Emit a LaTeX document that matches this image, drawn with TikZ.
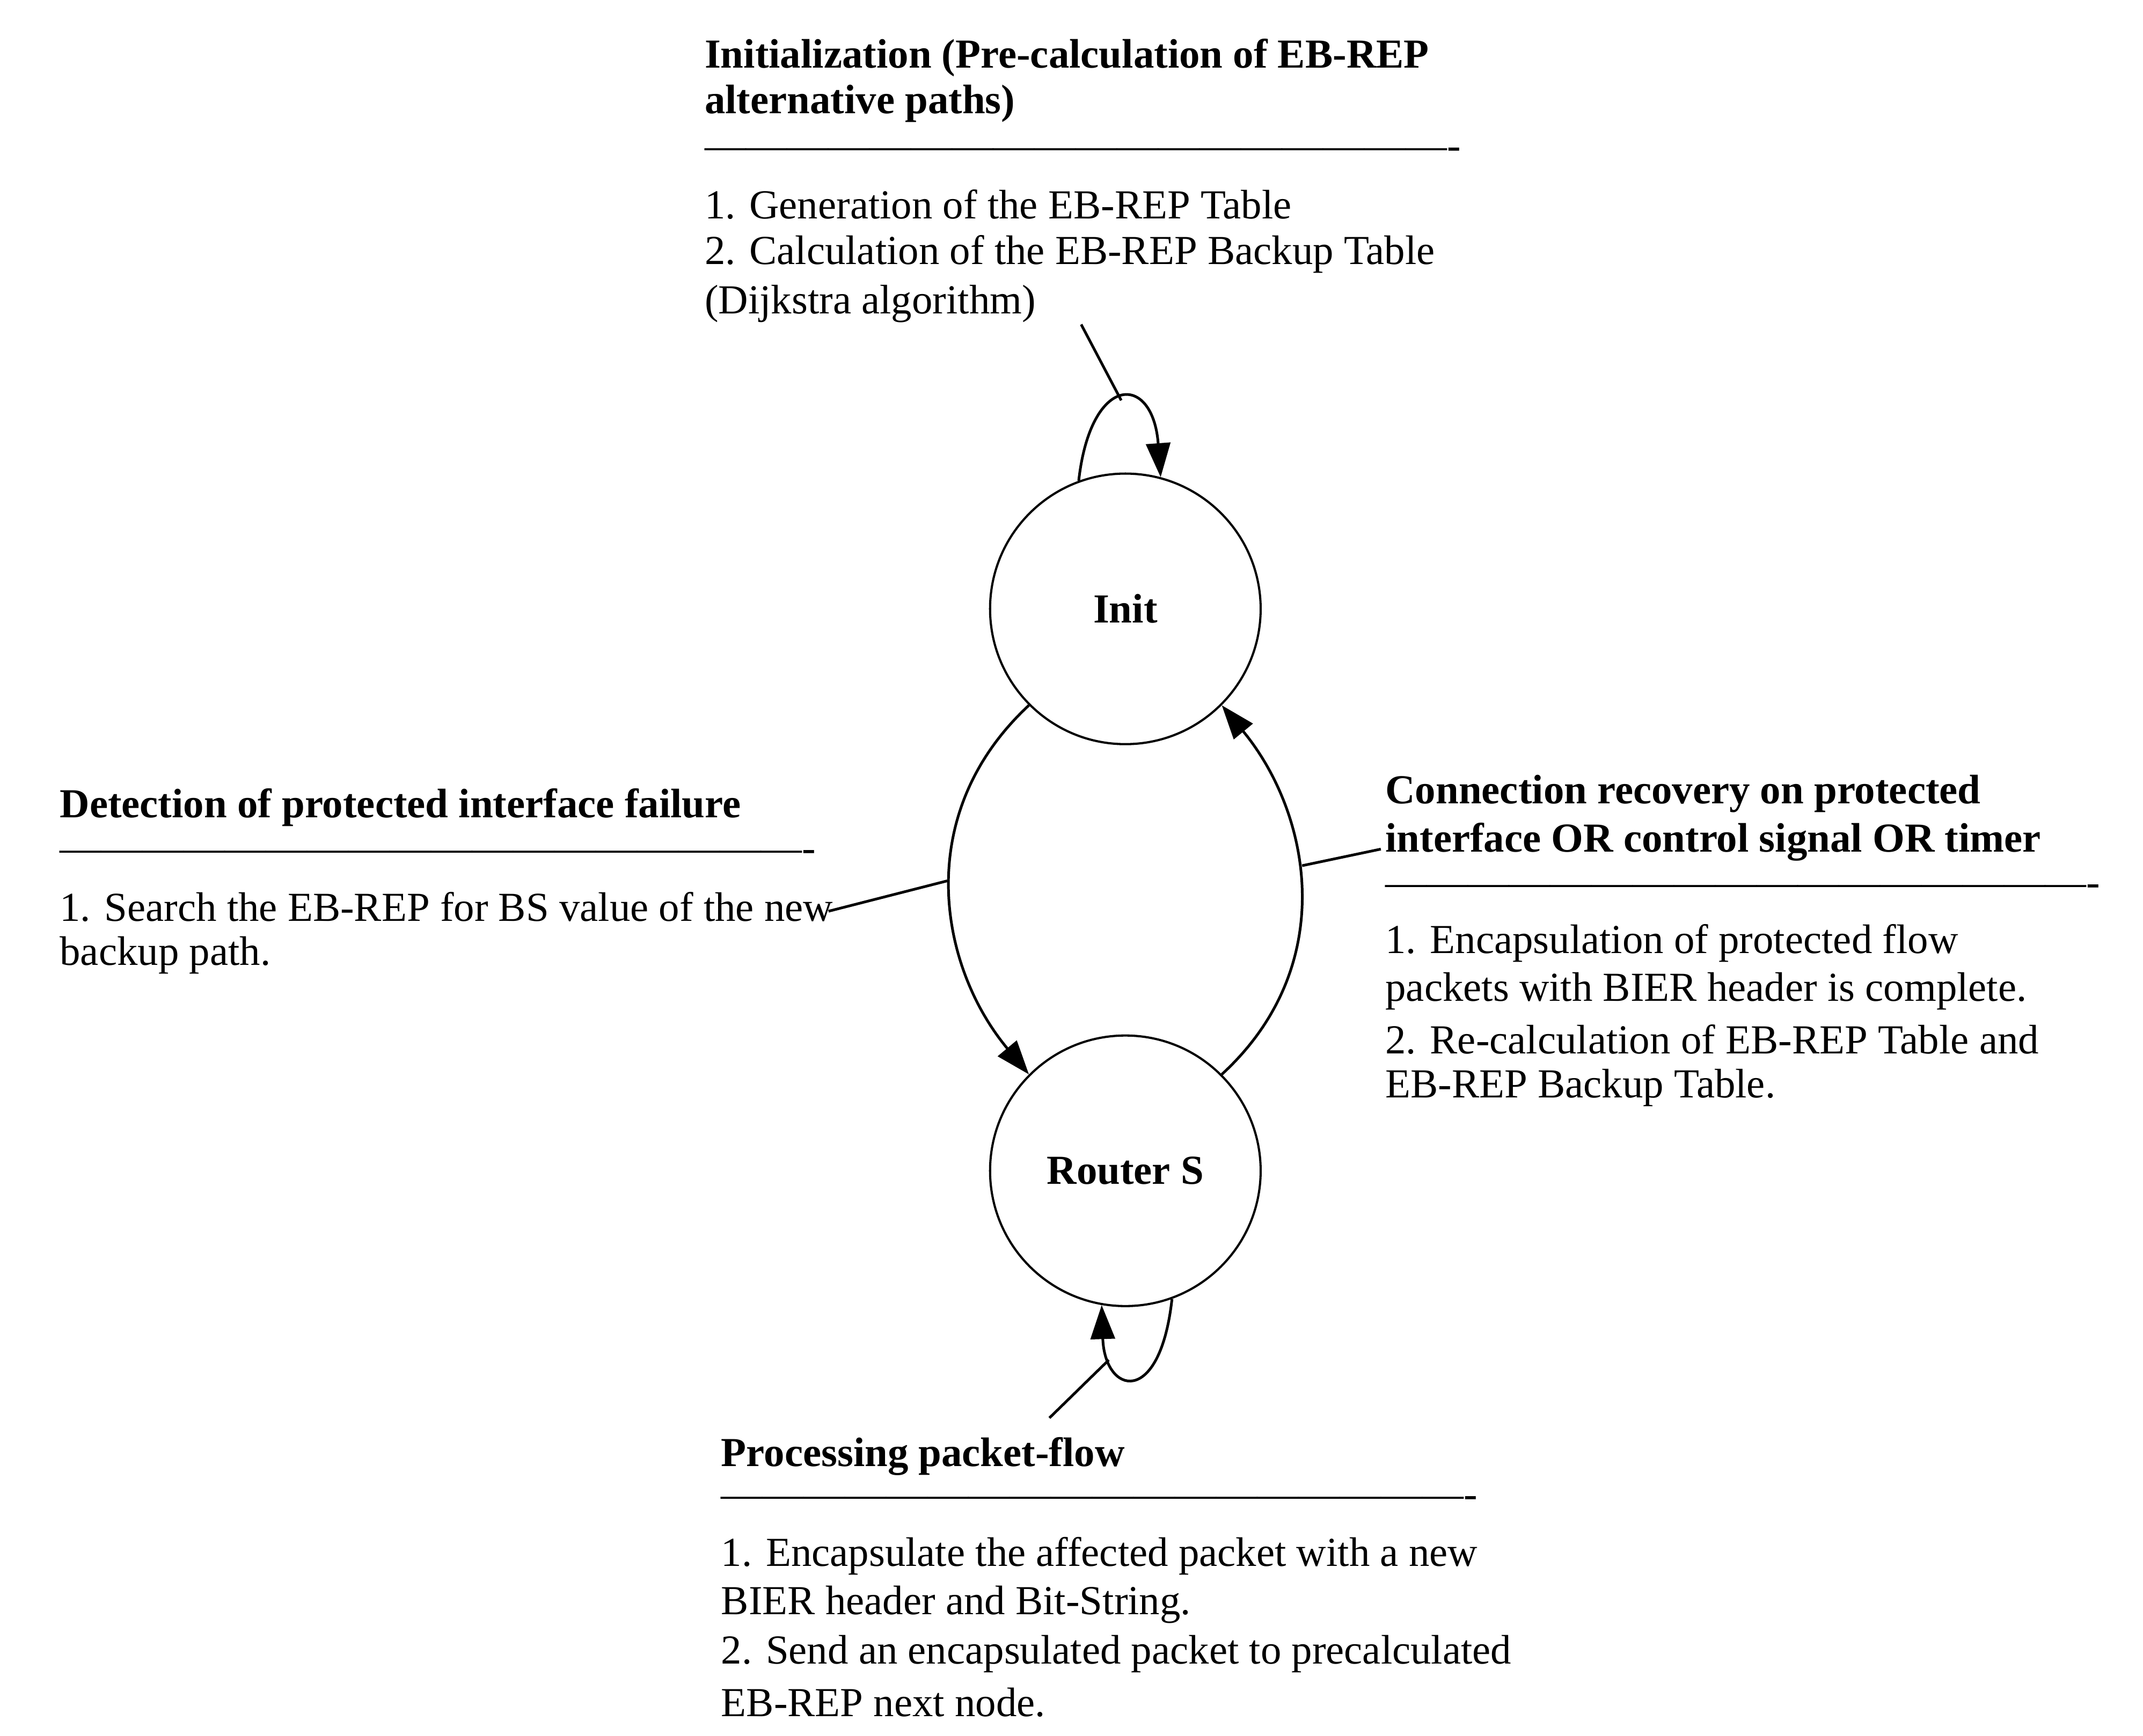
\documentclass[tikz,border=0pt]{standalone}
\usepackage{fontspec}
\setmainfont{Liberation Serif}
\usetikzlibrary{arrows.meta}
\begin{document}
\begin{tikzpicture}[x=0.02cm,y=-0.02cm,
 st/.style={circle,draw,line width=0.9pt,minimum size=3.92cm,font=\fontsize{17}{20}\selectfont\bfseries},
 tl/.style={anchor=west,inner sep=0pt,font=\fontsize{17}{20}\selectfont},
 hd/.style={tl,font=\fontsize{17}{20}\selectfont\bfseries},
 ar/.style={line width=1.1pt,-{Triangle[length=14pt,width=10pt]}},
 ln/.style={line width=1.1pt}]
\useasboundingbox (0,0) rectangle (1552,1257);
\node[st] (init) at (815,441) {Init};
\node[st] (rs) at (815,848) {Router S};
% loops
\draw[ar] (init.110) .. controls (790,270) and (835,270) .. (init.75);
\draw[ar] (rs.-70) .. controls (840,1020) and (800,1010) .. (rs.-100);
\draw[ar] (init.-135) .. controls (660,590) and (680,700) .. (rs.135);
\draw[ar] (rs.45) .. controls (970,700) and (950,590) .. (init.-45);
% label connectors
\coordinate (c1) at (783,235); \coordinate (p1) at (812,290);
\draw[ln] (c1) -- (p1);
\coordinate (c2) at (600,660); \coordinate (p2) at (686,638);
\draw[ln] (c2) -- (p2);
\coordinate (c3) at (1000,615); \coordinate (p3) at (943,627);
\draw[ln] (c3) -- (p3);
\coordinate (c4) at (760,1027); \coordinate (p4) at (803,985);
\draw[ln] (c4) -- (p4);
% top text
\node[hd] (t1) at (510,42) {Initialization (Pre-calculation of EB-REP};
\node[hd] (t2) at (510,75) {alternative paths)};
\node[tl] (t3) at (510,111) {-------------------------------------------------------};
\node[tl] (t4) at (510,148) {1. Generation of the EB-REP Table};
\node[tl] (t5) at (510,184) {2. Calculation of the EB-REP Backup Table};
\node[tl] (t6) at (510,220) {(Dijkstra algorithm)};
% left text
\node[hd] (l1) at (43,585) {Detection of protected interface failure};
\node[tl] (l2) at (43,620) {-------------------------------------------------------};
\node[tl] (l3) at (43,657) {1. Search the EB-REP for BS value of the new};
\node[tl] (l4) at (43,692) {backup path.};
% right text
\node[hd] (r1) at (1003,575) {Connection recovery on protected};
\node[hd] (r2) at (1003,610) {interface OR control signal OR timer};
\node[tl] (r3) at (1003,645) {----------------------------------------------------};
\node[tl] (r4) at (1003,683) {1. Encapsulation of protected flow};
\node[tl] (r5) at (1003,718) {packets with BIER header is complete.};
\node[tl] (r6) at (1003,753) {2. Re-calculation of EB-REP Table and};
\node[tl] (r7) at (1003,788) {EB-REP Backup Table.};
% bottom text
\node[hd] (b1) at (522,1055) {Processing packet-flow};
\node[tl] (b2) at (522,1088) {-------------------------------------------------------};
\node[tl] (b3) at (522,1127) {1. Encapsulate the affected packet with a new};
\node[tl] (b4) at (522,1162) {BIER header and Bit-String.};
\node[tl] (b5) at (522,1198) {2. Send an encapsulated packet to precalculated};
\node[tl] (b6) at (522,1233) {EB-REP next node.};
\end{tikzpicture}
\end{document}
